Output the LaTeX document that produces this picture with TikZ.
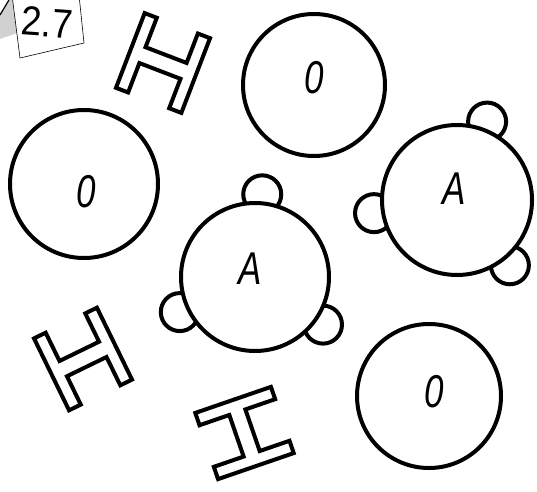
\documentclass[tikz,border=0pt]{standalone}
\usepackage{fontspec}
\setmainfont{Liberation Sans}
\begin{document}
\begin{tikzpicture}[x=1pt,y=1pt,
  ring/.style={circle,draw=black,line width=4pt,fill=white,inner sep=0pt},
  bump/.style={circle,draw=black,line width=4pt,fill=white,inner sep=0pt,minimum size=38pt},
  beam/.style={draw=black,line width=4pt,fill=white,line join=miter},
  lab/.style={font=\fontsize{46}{50}\selectfont\itshape,inner sep=0pt},
  cardlab/.style={font=\fontsize{41}{44}\selectfont,inner sep=0pt}]
\useasboundingbox (0,0) rectangle (537,491);
\fill[white] (0,0) rectangle (537,491);
% card in the corner
\fill[black!18] (0,476) -- (9,491) -- (14,491) -- (17,458) -- (0,452) -- cycle;
\draw[line width=1.2pt] (0,476) -- (9,491);
\draw[line width=0.6pt,fill=white] (12,496) -- (20,433) -- (84,448) -- (79,496);
\node[cardlab,rotate=-4] (card) at (47,468.5) {\scalebox{0.9}[1]{2.7}};
% H shapes
\draw[beam,shift={(163,428)},rotate=-21]
  (-35,40) -- (-22,40) -- (-22,8.5) -- (22,8.5) -- (22,40) -- (35,40) -- (35,-40) -- (22,-40)
  -- (22,-8.5) -- (-22,-8.5) -- (-22,-40) -- (-35,-40) -- cycle;
\draw[beam,shift={(83,132)},rotate=26]
  (-35,40) -- (-22,40) -- (-22,8.5) -- (22,8.5) -- (22,40) -- (35,40) -- (35,-40) -- (22,-40)
  -- (22,-8.5) -- (-22,-8.5) -- (-22,-40) -- (-35,-40) -- cycle;
\draw[beam,shift={(244.5,58)},rotate=-71]
  (-35,40) -- (-22,40) -- (-22,8.5) -- (22,8.5) -- (22,40) -- (35,40) -- (35,-40) -- (22,-40)
  -- (22,-8.5) -- (-22,-8.5) -- (-22,-40) -- (-35,-40) -- cycle;
% plain circles
\node[ring,minimum size=142pt] (o1) at (314,406) {};
\node[lab] (o1t) at (314,413) {\scalebox{0.76}[1]{0}};
\node[ring,minimum size=148pt] (o2) at (84,307) {};
\node[lab] (o2t) at (86,299) {\scalebox{0.76}[1]{0}};
\node[ring,minimum size=144pt] (o3) at (429,95) {};
\node[lab] (o3t) at (434,99) {\scalebox{0.76}[1]{0}};
% circles with bumps
\coordinate (ca) at (255,214);
\node[bump] (ab1) at ([shift={(85:83)}]ca) {};
\node[bump] (ab2) at ([shift={(205:83)}]ca) {};
\node[bump] (ab3) at ([shift={(325:83)}]ca) {};
\node[ring,minimum size=148pt] (a1) at (ca) {};
\node[lab] (a1t) at (250,222) {\scalebox{0.76}[1]{A}};
\coordinate (cb) at (457,291);
\node[bump] (bb1) at ([shift={(69:84)}]cb) {};
\node[bump] (bb2) at ([shift={(189:84)}]cb) {};
\node[bump] (bb3) at ([shift={(309:84)}]cb) {};
\node[ring,minimum size=150pt] (a2) at (cb) {};
\node[lab] (a2t) at (454,302) {\scalebox{0.76}[1]{A}};
\end{tikzpicture}
\end{document}
